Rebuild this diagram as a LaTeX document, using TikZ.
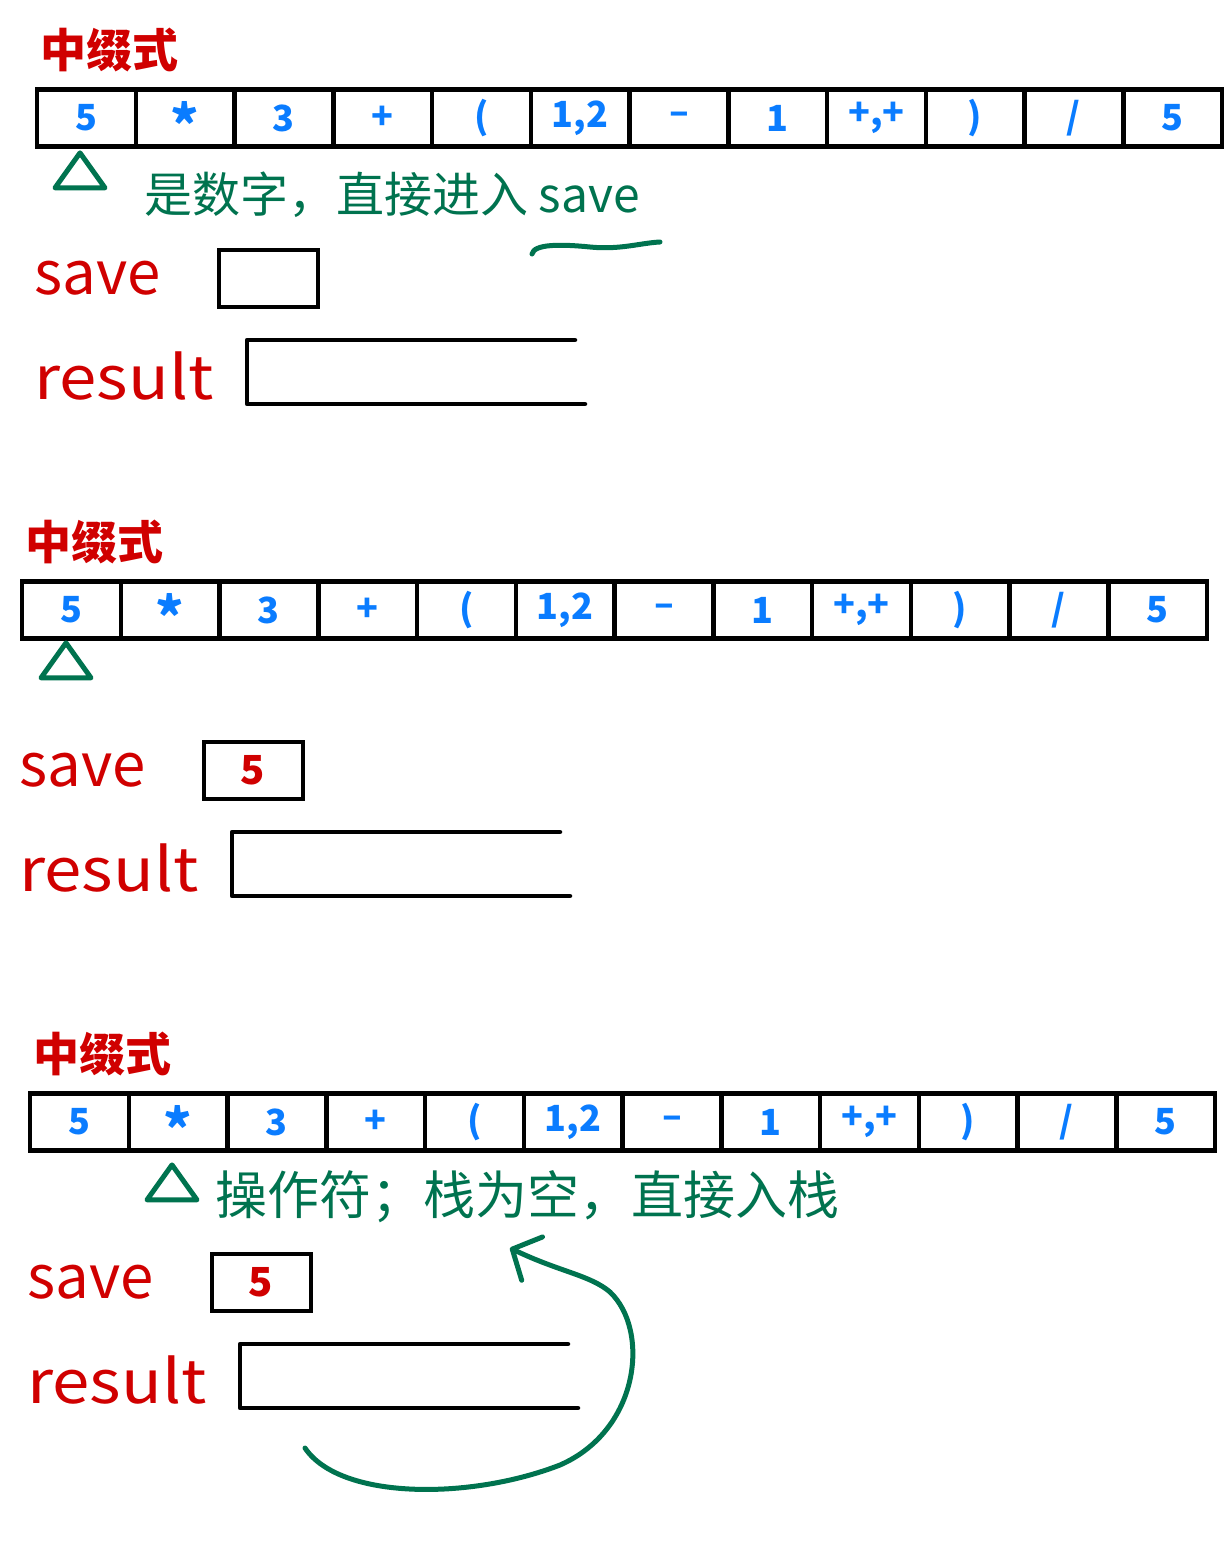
\documentclass[tikz,border=0pt]{standalone}
\usepackage{fontspec}
\setmainfont{Noto Sans CJK SC}
\usetikzlibrary{arrows.meta,positioning,calc,shapes.geometric}
\definecolor{inkred}{HTML}{D00000}
\definecolor{inkblue}{HTML}{0A7CFF}
\definecolor{inkgreen}{HTML}{00734F}
\newcommand{\cellstar}{{\fontsize{54}{54}\selectfont\raisebox{-0.5em}[0pt][0pt]{*}}}
\tikzset{
  title/.style={text=inkred, font=\fontsize{46}{50}\selectfont\bfseries, inner sep=0pt},
  cell/.style={draw, line width=4.5pt, minimum width=98.75pt, minimum height=57pt, inner sep=0pt, text=inkblue, font=\fontsize{36}{40}\selectfont\bfseries},
  tag/.style={text=inkred, font=\fontsize{60}{62}\selectfont, inner sep=0pt, anchor=west},
  savebox/.style={draw, line width=4pt, minimum width=99pt, minimum height=57pt, inner sep=0pt, text=inkred, font=\fontsize{40}{44}\selectfont\bfseries},
  resultline/.style={draw, line width=4.5pt, line cap=round, line join=round},
  pointer/.style={draw=inkgreen, line width=5pt, isosceles triangle, shape border rotate=90, isosceles triangle stretches, minimum width=50pt, minimum height=35pt, inner sep=0pt, line join=round},
  note/.style={text=inkgreen, font=\fontsize{48}{52}\selectfont, inner sep=0pt},
  greenpen/.style={draw=inkgreen, line width=5pt, line cap=round}
}

\begin{document}
\begin{tikzpicture}[x=1pt, y=-1pt]
  \useasboundingbox (0,0) rectangle (1227,1553);
  \foreach \dx/\dy/\sv/\px/\py [count=\k] in {37/118/{}/43/57, 22/610/5/44/55, 30/1122/5/142/65} {
    \begin{scope}[shift={(\dx,\dy)}]
      \node[title] (infix\k) at (72,-68) {中缀式};
      \foreach \t [count=\i] in {5,\cellstar,3,+,{(},{1,2},–,1,{+,+},{)},/,5}
        \node[cell] (tok\k-\i) at ({98.75*(\i-0.5)},0) {\t};
      \node[pointer] (ptr\k) at (\px,\py) {};
      \node[tag] (savelabel\k) at (-3,160) {save};
      \node[savebox] (save\k) at (231,160) {\sv};
      \node[tag, xscale=1.12] (resultlabel\k) at (-3,258) {result};
      \draw[resultline] (548,286) -| (210,222) -- (538,222);
    \end{scope}
  }

  \node[note] (note1) at (392,195) {是数字，直接进入 save};
  \draw[greenpen] (532,254) .. controls (534,244) and (560,244) .. (590,247) .. controls (620,250) and (640,243) .. (660,242);

  \node[note, font=\fontsize{52}{56}\selectfont] (note3) at (527,1197) {操作符；栈为空，直接入栈};
  \coordinate (loopstart) at (305,1448);
  \coordinate (looptip) at (510,1248);
  \draw[greenpen, -{Straight Barb[length=22pt,width=48pt,round]}] (loopstart) .. controls (340,1500) and (470,1500) .. (560,1465) .. controls (640,1430) and (650,1330) .. (610,1292) .. controls (590,1275) and (560,1272) .. (looptip);
\end{tikzpicture}
\end{document}
